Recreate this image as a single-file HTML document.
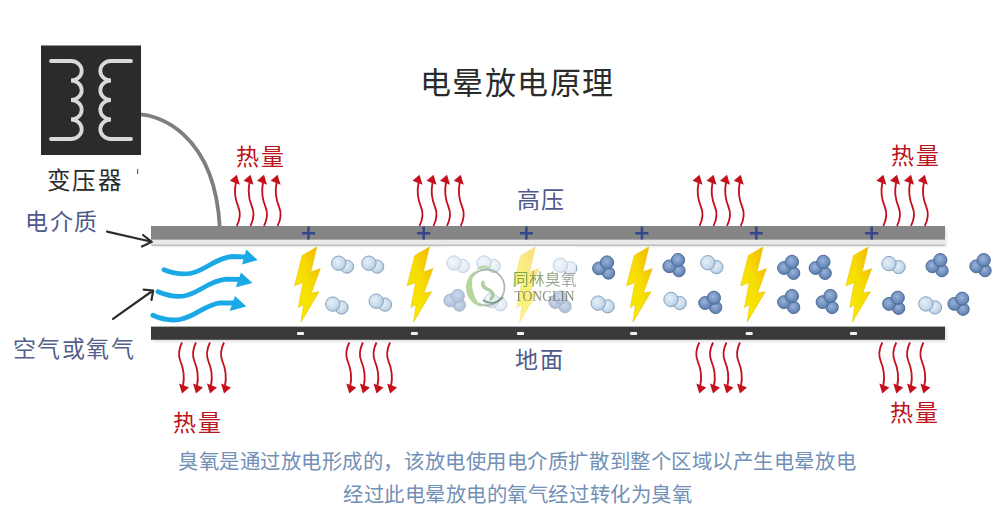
<!DOCTYPE html>
<html lang="zh-CN"><head><meta charset="utf-8">
<style>
html,body{margin:0;padding:0;background:#fff;}
body{width:1000px;height:514px;position:relative;overflow:hidden;font-family:"Liberation Sans",sans-serif;}
svg{position:absolute;left:0;top:0;font-family:"Liberation Sans",sans-serif;}
.hs{fill:none;stroke:#c4101c;stroke-width:1.85;}
.hf{fill:#c4101c;}
.t{position:absolute;white-space:nowrap;line-height:1;}
</style></head><body>
<svg width="1000" height="514" viewBox="0 0 1000 514">
<defs>
<linearGradient id="bg" x1="1" y1="0" x2="0" y2="1">
<stop offset="0" stop-color="#f2b200"/><stop offset="0.45" stop-color="#f6dc00"/><stop offset="1" stop-color="#f6f000"/>
</linearGradient>
<radialGradient id="lg" cx="0.4" cy="0.4" r="0.65">
<stop offset="0" stop-color="#e6f0f8"/><stop offset="0.7" stop-color="#c5d9ec"/><stop offset="1" stop-color="#a9c0d8"/>
</radialGradient>
<radialGradient id="dg" cx="0.45" cy="0.4" r="0.65">
<stop offset="0" stop-color="#9ab4d8"/><stop offset="0.6" stop-color="#7090c0"/><stop offset="1" stop-color="#56779f"/>
</radialGradient>
<filter id="blur"><feGaussianBlur stdDeviation="1.2"/></filter>
</defs>
<path d="M140,114.4 C156,115 215,131 219.8,228" fill="none" stroke="#7f7f7f" stroke-width="3.8"/><rect x="41" y="45.5" width="100" height="109.5" fill="#2b2b2b"/><path d="M51,61 H71 A10.7,9.75 0 0 1 71,80.5 A10.7,9.75 0 0 1 71,100 A10.7,9.75 0 0 1 71,119.5 A10.7,9.75 0 0 1 71,139 H51" fill="none" stroke="#d9d9d9" stroke-width="3.8" stroke-linecap="round"/><path d="M131,61 H111 A10.7,9.75 0 0 0 111,80.5 A10.7,9.75 0 0 0 111,100 A10.7,9.75 0 0 0 111,119.5 A10.7,9.75 0 0 0 111,139 H131" fill="none" stroke="#d9d9d9" stroke-width="3.8" stroke-linecap="round"/><rect x="137" y="169" width="1.2" height="5" fill="#666"/><rect x="153" y="228" width="794" height="19" fill="#000" opacity="0.08" filter="url(#blur)"/><rect x="151" y="226" width="794" height="13.8" fill="#858585"/><rect x="151" y="239.8" width="794" height="5.4" fill="#e9e9e9"/><rect x="151" y="244.7" width="794" height="1" fill="#a8a8a8"/><rect x="153" y="328" width="794" height="14" fill="#000" opacity="0.10" filter="url(#blur)"/><rect x="151" y="326.6" width="794" height="13.2" fill="#3a3a3a"/><rect x="307.25" y="226.5" width="2.5" height="13" fill="#34468c"/><rect x="302.0" y="232" width="13" height="2.5" fill="#34468c"/><rect x="422.45" y="226.5" width="2.5" height="13" fill="#34468c"/><rect x="417.2" y="232" width="13" height="2.5" fill="#34468c"/><rect x="525.15" y="226.5" width="2.5" height="13" fill="#34468c"/><rect x="519.9" y="232" width="13" height="2.5" fill="#34468c"/><rect x="640.65" y="226.5" width="2.5" height="13" fill="#34468c"/><rect x="635.4" y="232" width="13" height="2.5" fill="#34468c"/><rect x="755.05" y="226.5" width="2.5" height="13" fill="#34468c"/><rect x="749.8" y="232" width="13" height="2.5" fill="#34468c"/><rect x="870.45" y="226.5" width="2.5" height="13" fill="#34468c"/><rect x="865.2" y="232" width="13" height="2.5" fill="#34468c"/><rect x="297.0" y="332" width="7" height="3" rx="0.8" fill="#f2f2f2"/><rect x="410.9" y="332" width="7" height="3" rx="0.8" fill="#f2f2f2"/><rect x="517.0" y="332" width="7" height="3" rx="0.8" fill="#f2f2f2"/><rect x="630.1" y="332" width="7" height="3" rx="0.8" fill="#f2f2f2"/><rect x="745.7" y="332" width="7" height="3" rx="0.8" fill="#f2f2f2"/><rect x="850.0" y="332" width="7" height="3" rx="0.8" fill="#f2f2f2"/><g transform="translate(236.8,174.8)"><path d="M-1,8 C-3,18 -1.5,25 1.5,32 C4,38 3,45 0,51" class="hs"/><path d="M0,0 L-7,6 L3,10 Z" class="hf"/></g><g transform="translate(250.5,174.8)"><path d="M-1,8 C-3,18 -1.5,25 1.5,32 C4,38 3,45 0,51" class="hs"/><path d="M0,0 L-7,6 L3,10 Z" class="hf"/></g><g transform="translate(264,174.8)"><path d="M-1,8 C-3,18 -1.5,25 1.5,32 C4,38 3,45 0,51" class="hs"/><path d="M0,0 L-7,6 L3,10 Z" class="hf"/></g><g transform="translate(277.6,174.8)"><path d="M-1,8 C-3,18 -1.5,25 1.5,32 C4,38 3,45 0,51" class="hs"/><path d="M0,0 L-7,6 L3,10 Z" class="hf"/></g><g transform="translate(419.5,174.8)"><path d="M-1,8 C-3,18 -1.5,25 1.5,32 C4,38 3,45 0,51" class="hs"/><path d="M0,0 L-7,6 L3,10 Z" class="hf"/></g><g transform="translate(433.5,174.8)"><path d="M-1,8 C-3,18 -1.5,25 1.5,32 C4,38 3,45 0,51" class="hs"/><path d="M0,0 L-7,6 L3,10 Z" class="hf"/></g><g transform="translate(447,174.8)"><path d="M-1,8 C-3,18 -1.5,25 1.5,32 C4,38 3,45 0,51" class="hs"/><path d="M0,0 L-7,6 L3,10 Z" class="hf"/></g><g transform="translate(460.7,174.8)"><path d="M-1,8 C-3,18 -1.5,25 1.5,32 C4,38 3,45 0,51" class="hs"/><path d="M0,0 L-7,6 L3,10 Z" class="hf"/></g><g transform="translate(699.5,174.8)"><path d="M-1,8 C-3,18 -1.5,25 1.5,32 C4,38 3,45 0,51" class="hs"/><path d="M0,0 L-7,6 L3,10 Z" class="hf"/></g><g transform="translate(713.5,174.8)"><path d="M-1,8 C-3,18 -1.5,25 1.5,32 C4,38 3,45 0,51" class="hs"/><path d="M0,0 L-7,6 L3,10 Z" class="hf"/></g><g transform="translate(727,174.8)"><path d="M-1,8 C-3,18 -1.5,25 1.5,32 C4,38 3,45 0,51" class="hs"/><path d="M0,0 L-7,6 L3,10 Z" class="hf"/></g><g transform="translate(740.7,174.8)"><path d="M-1,8 C-3,18 -1.5,25 1.5,32 C4,38 3,45 0,51" class="hs"/><path d="M0,0 L-7,6 L3,10 Z" class="hf"/></g><g transform="translate(883.3,174.8)"><path d="M-1,8 C-3,18 -1.5,25 1.5,32 C4,38 3,45 0,51" class="hs"/><path d="M0,0 L-7,6 L3,10 Z" class="hf"/></g><g transform="translate(897,174.8)"><path d="M-1,8 C-3,18 -1.5,25 1.5,32 C4,38 3,45 0,51" class="hs"/><path d="M0,0 L-7,6 L3,10 Z" class="hf"/></g><g transform="translate(911,174.8)"><path d="M-1,8 C-3,18 -1.5,25 1.5,32 C4,38 3,45 0,51" class="hs"/><path d="M0,0 L-7,6 L3,10 Z" class="hf"/></g><g transform="translate(924.8,174.8)"><path d="M-1,8 C-3,18 -1.5,25 1.5,32 C4,38 3,45 0,51" class="hs"/><path d="M0,0 L-7,6 L3,10 Z" class="hf"/></g><g transform="translate(182,393.5) rotate(180)"><path d="M-1,8 C-3,18 -1.5,25 1.5,32 C4,38 3,45 0,51" class="hs"/><path d="M0,0 L-7,6 L3,10 Z" class="hf"/></g><g transform="translate(196,393.5) rotate(180)"><path d="M-1,8 C-3,18 -1.5,25 1.5,32 C4,38 3,45 0,51" class="hs"/><path d="M0,0 L-7,6 L3,10 Z" class="hf"/></g><g transform="translate(210,393.5) rotate(180)"><path d="M-1,8 C-3,18 -1.5,25 1.5,32 C4,38 3,45 0,51" class="hs"/><path d="M0,0 L-7,6 L3,10 Z" class="hf"/></g><g transform="translate(224,393.5) rotate(180)"><path d="M-1,8 C-3,18 -1.5,25 1.5,32 C4,38 3,45 0,51" class="hs"/><path d="M0,0 L-7,6 L3,10 Z" class="hf"/></g><g transform="translate(349.3,393.5) rotate(180)"><path d="M-1,8 C-3,18 -1.5,25 1.5,32 C4,38 3,45 0,51" class="hs"/><path d="M0,0 L-7,6 L3,10 Z" class="hf"/></g><g transform="translate(362.9,393.5) rotate(180)"><path d="M-1,8 C-3,18 -1.5,25 1.5,32 C4,38 3,45 0,51" class="hs"/><path d="M0,0 L-7,6 L3,10 Z" class="hf"/></g><g transform="translate(376.5,393.5) rotate(180)"><path d="M-1,8 C-3,18 -1.5,25 1.5,32 C4,38 3,45 0,51" class="hs"/><path d="M0,0 L-7,6 L3,10 Z" class="hf"/></g><g transform="translate(390.1,393.5) rotate(180)"><path d="M-1,8 C-3,18 -1.5,25 1.5,32 C4,38 3,45 0,51" class="hs"/><path d="M0,0 L-7,6 L3,10 Z" class="hf"/></g><g transform="translate(699.3,393.5) rotate(180)"><path d="M-1,8 C-3,18 -1.5,25 1.5,32 C4,38 3,45 0,51" class="hs"/><path d="M0,0 L-7,6 L3,10 Z" class="hf"/></g><g transform="translate(713,393.5) rotate(180)"><path d="M-1,8 C-3,18 -1.5,25 1.5,32 C4,38 3,45 0,51" class="hs"/><path d="M0,0 L-7,6 L3,10 Z" class="hf"/></g><g transform="translate(726.5,393.5) rotate(180)"><path d="M-1,8 C-3,18 -1.5,25 1.5,32 C4,38 3,45 0,51" class="hs"/><path d="M0,0 L-7,6 L3,10 Z" class="hf"/></g><g transform="translate(740,393.5) rotate(180)"><path d="M-1,8 C-3,18 -1.5,25 1.5,32 C4,38 3,45 0,51" class="hs"/><path d="M0,0 L-7,6 L3,10 Z" class="hf"/></g><g transform="translate(882.3,393.5) rotate(180)"><path d="M-1,8 C-3,18 -1.5,25 1.5,32 C4,38 3,45 0,51" class="hs"/><path d="M0,0 L-7,6 L3,10 Z" class="hf"/></g><g transform="translate(896.3,393.5) rotate(180)"><path d="M-1,8 C-3,18 -1.5,25 1.5,32 C4,38 3,45 0,51" class="hs"/><path d="M0,0 L-7,6 L3,10 Z" class="hf"/></g><g transform="translate(910,393.5) rotate(180)"><path d="M-1,8 C-3,18 -1.5,25 1.5,32 C4,38 3,45 0,51" class="hs"/><path d="M0,0 L-7,6 L3,10 Z" class="hf"/></g><g transform="translate(923.4,393.5) rotate(180)"><path d="M-1,8 C-3,18 -1.5,25 1.5,32 C4,38 3,45 0,51" class="hs"/><path d="M0,0 L-7,6 L3,10 Z" class="hf"/></g><path d="M164,269.8 C172,273 180,275 190,273.5 C205,271 215,258 232,256.5 L245,256.8" fill="none" stroke="#1aa8e6" stroke-width="4.8" stroke-linecap="round"/><path d="M257.7,260.1 L246.3,249.6 L242,264.5 Z" fill="#1aa8e6"/><path d="M158,291.7 C166,295 174,297.5 184,296 C199,293.5 208,281 226,279.2 L240,279.5" fill="none" stroke="#1aa8e6" stroke-width="4.8" stroke-linecap="round"/><path d="M252.5,282.9 L241,272.4 L235.8,287.3 Z" fill="#1aa8e6"/><path d="M152.8,315.3 C161,319 170,321 180,319.5 C195,317 205,304.5 220,302.8 L233,303" fill="none" stroke="#1aa8e6" stroke-width="4.8" stroke-linecap="round"/><path d="M246.3,306.5 L235,296 L229.7,311 Z" fill="#1aa8e6"/><polygon points="316.8,247.0 310.8,272.0 320.3,268.6 311.3,293.0 319.0,291.8 301.0,322.0 303.5,304.5 298.3,307.5 303.0,282.5 294.5,285.8 302.2,255.5" fill="url(#bg)" stroke="#f0c000" stroke-width="0.6"/><polygon points="429.4,247.0 423.4,272.0 432.9,268.6 423.9,293.0 431.6,291.8 413.6,322.0 416.1,304.5 410.9,307.5 415.6,282.5 407.1,285.8 414.8,255.5" fill="url(#bg)" stroke="#f0c000" stroke-width="0.6"/><polygon points="535.4,247.0 529.4,272.0 538.9,268.6 529.9,293.0 537.6,291.8 519.6,322.0 522.1,304.5 516.9,307.5 521.6,282.5 513.1,285.8 520.8,255.5" fill="url(#bg)" stroke="#f0c000" stroke-width="0.6"/><polygon points="648.8,247.0 642.8,272.0 652.3,268.6 643.3,293.0 651.0,291.8 633.0,322.0 635.5,304.5 630.3,307.5 635.0,282.5 626.5,285.8 634.2,255.5" fill="url(#bg)" stroke="#f0c000" stroke-width="0.6"/><polygon points="763.0,247.0 757.0,272.0 766.5,268.6 757.5,293.0 765.2,291.8 747.2,322.0 749.7,304.5 744.5,307.5 749.2,282.5 740.7,285.8 748.4,255.5" fill="url(#bg)" stroke="#f0c000" stroke-width="0.6"/><polygon points="868.2,247.0 862.2,272.0 871.7,268.6 862.7,293.0 870.4,291.8 852.4,322.0 854.9,304.5 849.7,307.5 854.4,282.5 845.9,285.8 853.6,255.5" fill="url(#bg)" stroke="#f0c000" stroke-width="0.6"/><circle cx="347" cy="266.6" r="6.6" fill="url(#lg)" stroke="#8aa3bd" stroke-width="1"/><circle cx="338.7" cy="263.2" r="7.2" fill="url(#lg)" stroke="#8aa3bd" stroke-width="1"/><circle cx="377.2" cy="266.6" r="6.6" fill="url(#lg)" stroke="#8aa3bd" stroke-width="1"/><circle cx="368.9" cy="263.2" r="7.2" fill="url(#lg)" stroke="#8aa3bd" stroke-width="1"/><circle cx="341.6" cy="307.5" r="6.6" fill="url(#lg)" stroke="#8aa3bd" stroke-width="1"/><circle cx="332.8" cy="304.1" r="7.2" fill="url(#lg)" stroke="#8aa3bd" stroke-width="1"/><circle cx="385" cy="304.6" r="6.6" fill="url(#lg)" stroke="#8aa3bd" stroke-width="1"/><circle cx="376.2" cy="301.2" r="7.2" fill="url(#lg)" stroke="#8aa3bd" stroke-width="1"/><circle cx="463" cy="266" r="6.6" fill="url(#lg)" stroke="#8aa3bd" stroke-width="1"/><circle cx="454" cy="263" r="7.2" fill="url(#lg)" stroke="#8aa3bd" stroke-width="1"/><circle cx="493.75" cy="266" r="6.6" fill="url(#lg)" stroke="#8aa3bd" stroke-width="1"/><circle cx="484" cy="263" r="7.2" fill="url(#lg)" stroke="#8aa3bd" stroke-width="1"/><circle cx="500.5" cy="304.25" r="6.6" fill="url(#lg)" stroke="#8aa3bd" stroke-width="1"/><circle cx="491.5" cy="300.5" r="7.2" fill="url(#lg)" stroke="#8aa3bd" stroke-width="1"/><circle cx="570.25" cy="268.25" r="6.6" fill="url(#lg)" stroke="#8aa3bd" stroke-width="1"/><circle cx="560.5" cy="265.25" r="7.2" fill="url(#lg)" stroke="#8aa3bd" stroke-width="1"/><circle cx="607.7" cy="306.3" r="6.6" fill="url(#lg)" stroke="#8aa3bd" stroke-width="1"/><circle cx="598.2" cy="303.1" r="7.2" fill="url(#lg)" stroke="#8aa3bd" stroke-width="1"/><circle cx="716.5" cy="267.1" r="6.6" fill="url(#lg)" stroke="#8aa3bd" stroke-width="1"/><circle cx="707.8" cy="262.75" r="7.2" fill="url(#lg)" stroke="#8aa3bd" stroke-width="1"/><circle cx="679.75" cy="303" r="6.6" fill="url(#lg)" stroke="#8aa3bd" stroke-width="1"/><circle cx="671" cy="299.5" r="7.2" fill="url(#lg)" stroke="#8aa3bd" stroke-width="1"/><circle cx="898.6" cy="267.1" r="6.6" fill="url(#lg)" stroke="#8aa3bd" stroke-width="1"/><circle cx="889" cy="263.6" r="7.2" fill="url(#lg)" stroke="#8aa3bd" stroke-width="1"/><circle cx="935" cy="307.4" r="6.6" fill="url(#lg)" stroke="#8aa3bd" stroke-width="1"/><circle cx="925.9" cy="303.9" r="7.2" fill="url(#lg)" stroke="#8aa3bd" stroke-width="1"/><circle cx="608.5" cy="273" r="6.2" fill="url(#dg)" stroke="#4d6b98" stroke-width="1"/><circle cx="599" cy="268.4" r="6.4" fill="url(#dg)" stroke="#4d6b98" stroke-width="1"/><circle cx="607" cy="262.5" r="6.6" fill="url(#dg)" stroke="#4d6b98" stroke-width="1"/><circle cx="459.25" cy="305" r="6.2" fill="url(#dg)" stroke="#4d6b98" stroke-width="1"/><circle cx="450.25" cy="300.5" r="6.4" fill="url(#dg)" stroke="#4d6b98" stroke-width="1"/><circle cx="457.75" cy="296" r="6.6" fill="url(#dg)" stroke="#4d6b98" stroke-width="1"/><circle cx="565" cy="306.5" r="6.2" fill="url(#dg)" stroke="#4d6b98" stroke-width="1"/><circle cx="555.25" cy="302" r="6.4" fill="url(#dg)" stroke="#4d6b98" stroke-width="1"/><circle cx="560.5" cy="297.5" r="6.6" fill="url(#dg)" stroke="#4d6b98" stroke-width="1"/><circle cx="678.9" cy="270.6" r="6.2" fill="url(#dg)" stroke="#4d6b98" stroke-width="1"/><circle cx="669.3" cy="266.3" r="6.4" fill="url(#dg)" stroke="#4d6b98" stroke-width="1"/><circle cx="678" cy="260.1" r="6.6" fill="url(#dg)" stroke="#4d6b98" stroke-width="1"/><circle cx="715.6" cy="307.4" r="6.2" fill="url(#dg)" stroke="#4d6b98" stroke-width="1"/><circle cx="705.1" cy="303" r="6.4" fill="url(#dg)" stroke="#4d6b98" stroke-width="1"/><circle cx="713.9" cy="297.75" r="6.6" fill="url(#dg)" stroke="#4d6b98" stroke-width="1"/><circle cx="793.6" cy="273.25" r="6.2" fill="url(#dg)" stroke="#4d6b98" stroke-width="1"/><circle cx="784" cy="268" r="6.4" fill="url(#dg)" stroke="#4d6b98" stroke-width="1"/><circle cx="791.9" cy="261.9" r="6.6" fill="url(#dg)" stroke="#4d6b98" stroke-width="1"/><circle cx="825.1" cy="273.25" r="6.2" fill="url(#dg)" stroke="#4d6b98" stroke-width="1"/><circle cx="815.5" cy="268" r="6.4" fill="url(#dg)" stroke="#4d6b98" stroke-width="1"/><circle cx="823.4" cy="261.9" r="6.6" fill="url(#dg)" stroke="#4d6b98" stroke-width="1"/><circle cx="793.6" cy="307.4" r="6.2" fill="url(#dg)" stroke="#4d6b98" stroke-width="1"/><circle cx="784" cy="302.1" r="6.4" fill="url(#dg)" stroke="#4d6b98" stroke-width="1"/><circle cx="791.9" cy="296" r="6.6" fill="url(#dg)" stroke="#4d6b98" stroke-width="1"/><circle cx="832.1" cy="307.4" r="6.2" fill="url(#dg)" stroke="#4d6b98" stroke-width="1"/><circle cx="822.5" cy="302.1" r="6.4" fill="url(#dg)" stroke="#4d6b98" stroke-width="1"/><circle cx="830.4" cy="296" r="6.6" fill="url(#dg)" stroke="#4d6b98" stroke-width="1"/><circle cx="898.6" cy="308.25" r="6.2" fill="url(#dg)" stroke="#4d6b98" stroke-width="1"/><circle cx="889" cy="303.9" r="6.4" fill="url(#dg)" stroke="#4d6b98" stroke-width="1"/><circle cx="897.75" cy="297.75" r="6.6" fill="url(#dg)" stroke="#4d6b98" stroke-width="1"/><circle cx="942" cy="270.6" r="6.2" fill="url(#dg)" stroke="#4d6b98" stroke-width="1"/><circle cx="932.4" cy="266.3" r="6.4" fill="url(#dg)" stroke="#4d6b98" stroke-width="1"/><circle cx="940.3" cy="260.1" r="6.6" fill="url(#dg)" stroke="#4d6b98" stroke-width="1"/><circle cx="985" cy="270.6" r="6.2" fill="url(#dg)" stroke="#4d6b98" stroke-width="1"/><circle cx="976.2" cy="266.3" r="6.4" fill="url(#dg)" stroke="#4d6b98" stroke-width="1"/><circle cx="983.7" cy="260.1" r="6.6" fill="url(#dg)" stroke="#4d6b98" stroke-width="1"/><circle cx="963" cy="309.2" r="6.2" fill="url(#dg)" stroke="#4d6b98" stroke-width="1"/><circle cx="954.3" cy="303.9" r="6.4" fill="url(#dg)" stroke="#4d6b98" stroke-width="1"/><circle cx="962.2" cy="298.7" r="6.6" fill="url(#dg)" stroke="#4d6b98" stroke-width="1"/><path d="M107,231.6 L151.5,241.7 M143,235 L151.8,241.8 L142,246.6" fill="none" stroke="#2d2d2d" stroke-width="2.2" stroke-linecap="round" stroke-linejoin="round"/><path d="M113,318.9 L153,290.5 M143.6,289.6 L153.2,290.5 L151.5,300" fill="none" stroke="#2d2d2d" stroke-width="2.2" stroke-linecap="round" stroke-linejoin="round"/><rect x="443" y="246" width="133" height="80" fill="#fff" opacity="0.5"/><g opacity="0.85"><circle cx="486.5" cy="287.5" r="18" fill="none" stroke="#9fb0a0" stroke-width="1.8"/><path d="M491.2,268.2 A20,20 0 1 0 482.5,307.2 A13,20.5 -12.6 0 1 491.2,268.2 Z" fill="#a9d08a"/><path d="M483,282.5 C481.5,286.5 486,288.5 490,290.5 C493.5,292.5 494,296 491,299" fill="none" stroke="#a2c890" stroke-width="3.6" stroke-linecap="round"/><path d="M483,300 C490,305 498,303 503,297" fill="none" stroke="#5f8a70" stroke-width="1.6"/></g><defs><linearGradient id="wg" x1="0" y1="0" x2="1" y2="0"><stop offset="0" stop-color="#5f9a35"/><stop offset="0.45" stop-color="#7e9a6a"/><stop offset="1" stop-color="#9aa0a0"/></linearGradient></defs><text x="513" y="285" font-size="15.6" fill="url(#wg)" opacity="0.85" letter-spacing="0">同林臭氧</text><text x="514.5" y="301.3" font-size="13.6" fill="#6d7260" opacity="0.8" font-family="Liberation Serif, serif" letter-spacing="0">TONGLIN</text>
</svg>
<div class="t" style="left:419.5px;top:68px;font-size:31px;letter-spacing:1.5px;color:#2a2a2a;">电晕放电原理</div>
<div class="t" style="left:47px;top:169.5px;font-size:23.5px;letter-spacing:2.3px;color:#2a2a2a;">变压器</div>
<div class="t" style="left:25px;top:211px;font-size:23px;letter-spacing:1.5px;color:#4f5b8a;">电介质</div>
<div class="t" style="left:12.5px;top:338px;font-size:23px;letter-spacing:1.5px;color:#555f8e;">空气或氧气</div>
<div class="t" style="left:516.5px;top:189px;font-size:23px;letter-spacing:1.6px;color:#505a8a;">高压</div>
<div class="t" style="left:515px;top:349px;font-size:23px;letter-spacing:1.6px;color:#505a8a;">地面</div>
<div class="t" style="left:236px;top:146px;font-size:23px;letter-spacing:1.6px;color:#bb141c;">热量</div>
<div class="t" style="left:891px;top:145px;font-size:23px;letter-spacing:1.6px;color:#bb141c;">热量</div>
<div class="t" style="left:173px;top:412px;font-size:23px;letter-spacing:1.6px;color:#bb141c;">热量</div>
<div class="t" style="left:890px;top:402px;font-size:23px;letter-spacing:1.6px;color:#bb141c;">热量</div>
<div class="t" style="left:178px;top:451.5px;font-size:20.4px;letter-spacing:0.55px;color:#7290b6;">臭氧是通过放电形成的，该放电使用电介质扩散到整个区域以产生电晕放电</div>
<div class="t" style="left:343px;top:484.5px;font-size:20.4px;letter-spacing:0.55px;color:#7290b6;">经过此电晕放电的氧气经过转化为臭氧</div>
</body></html>
